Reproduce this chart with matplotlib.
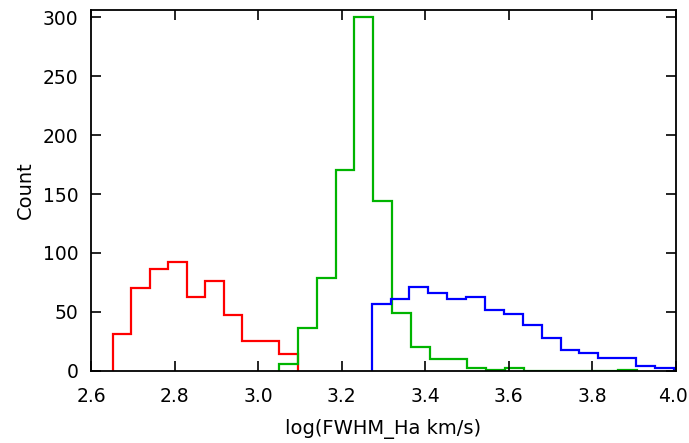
import numpy as np
import matplotlib
matplotlib.use("Agg")
import matplotlib.pyplot as plt
from matplotlib.transforms import ScaledTranslation

# Red histogram
red_range = (2.652, 3.095)
red_counts = [31, 70, 86, 92, 63, 76, 47, 25, 25, 14]
# Green histogram
green_range = (3.050, 3.907)
green_counts = [6, 36, 79, 170, 300, 144, 49, 20, 10, 10, 2, 1, 2, 0, 0, 0, 0, 0, 1]
# Blue histogram
blue_range = (3.272, 3.995)
blue_counts = [57, 61, 71, 66, 61, 63, 52, 48, 39, 28, 18, 15, 11, 11, 4, 2]

xticks = [2.6, 2.8, 3.0, 3.2, 3.4, 3.6, 3.8, 4.0]
yticks = [0, 50, 100, 150, 200, 250, 300]

plt.rcParams['font.family'] = ['DejaVu Sans']
fig = plt.figure(figsize=(6.89, 4.43), dpi=100)
ax = fig.add_axes([0.132, 0.163, 0.849, 0.814])

for rng, cnt, col in [(red_range, red_counts, '#FF0000'),
                      (green_range, green_counts, '#00B400'),
                      (blue_range, blue_counts, '#0000FF')]:
    edges = np.linspace(rng[0], rng[1], len(cnt) + 1)
    ax.stairs(cnt, edges, baseline=0, fill=False, color=col, linewidth=1.6)

ax.set_xlim(2.6, 4.0)
ax.set_ylim(0, 306)
ax.set_xticks(xticks)
ax.set_xticklabels([f"{t:.1f}" for t in xticks])
ax.set_yticks(yticks)
ax.tick_params(direction='in', top=True, right=True, length=7, width=1.2,
               labelsize=13.5)
ax.tick_params(axis='x', pad=12)
ax.tick_params(axis='y', pad=9)
for s in ax.spines.values():
    s.set_linewidth(1.3)
ax.set_xlabel("log(FWHM_Ha km/s)", fontsize=14, labelpad=9)
ax.set_ylabel("Count", fontsize=14, labelpad=6)

last = ax.get_xticklabels()[-1]
last.set_transform(last.get_transform() + ScaledTranslation(-3 / 100, 0, fig.dpi_scale_trans))

fig.savefig("out.png", dpi=100)
